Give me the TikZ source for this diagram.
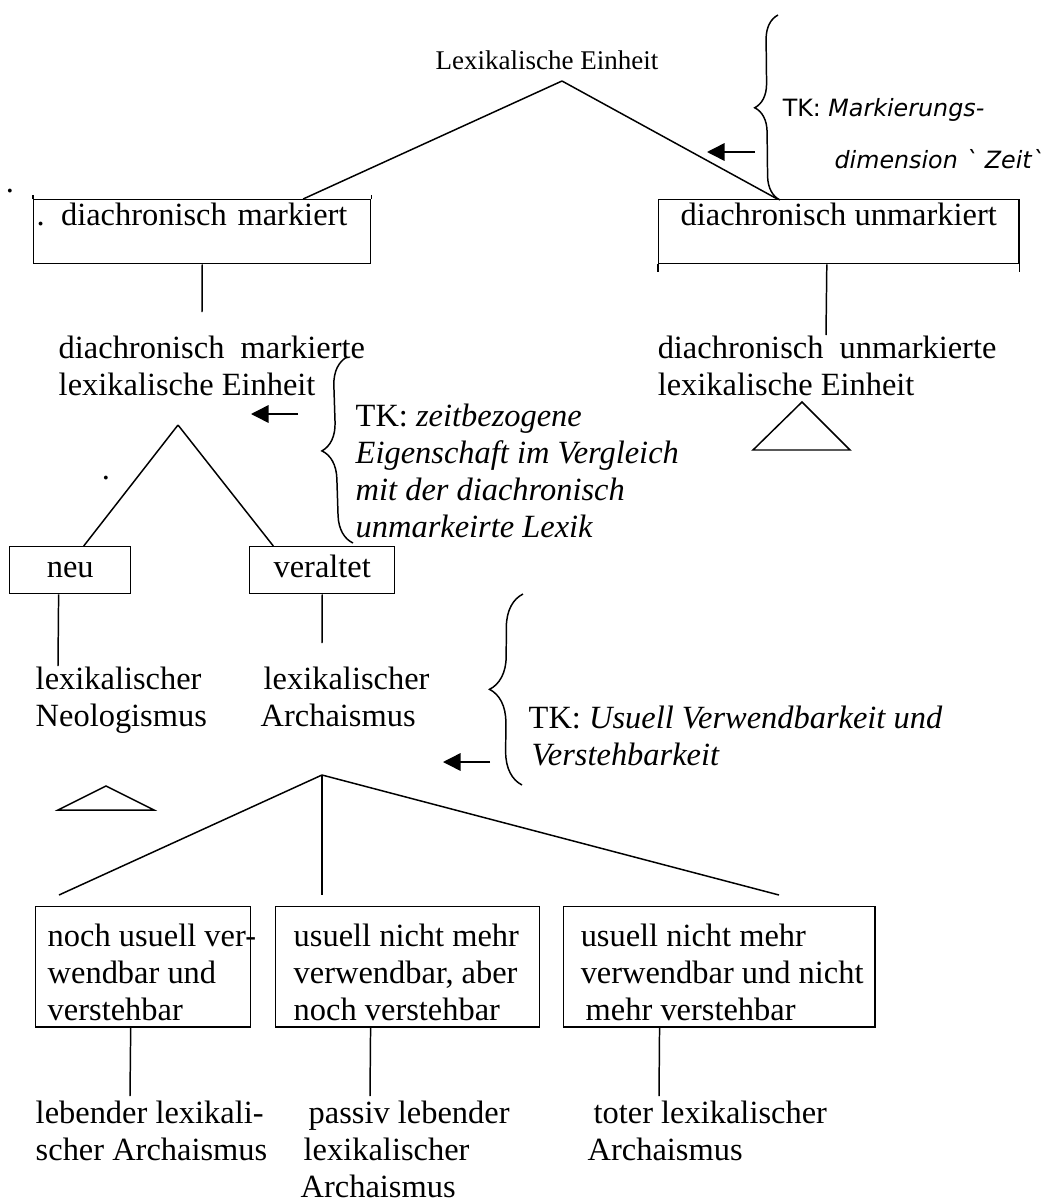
\documentclass[tikz,border=0pt]{standalone}
\usepackage{fontspec}
\setmainfont{Liberation Serif}
\newfontfamily\tksans{DejaVu Sans}
\usetikzlibrary{arrows.meta,calc,decorations.pathreplacing}

\begin{document}
\begin{tikzpicture}[
    x=0.37pt, y=-0.37pt, line width=0.55pt,
    txt/.style={inner sep=0pt, anchor=north west, align=left, font=\fontsize{12}{13.7}\selectfont},
    box/.style={draw, inner sep=0pt, anchor=north west, font=\fontsize{12}{13.7}\selectfont},
    arrow/.style={-{Triangle[length=6.5pt,width=6.5pt]}},
    tkbrace/.style={decorate, decoration={brace, amplitude=#1}},
    tkbrace/.default=9pt,
]
\path[use as bounding box, fill=white] (0,0) rectangle (1045,1204);

% Top level
\node[txt, anchor=north, font=\fontsize{10}{12}\selectfont] (lex) at (547,50) {Lexikalische Einheit};
\coordinate (lexapex) at (562,81);
\node[txt, anchor=base] (dot1) at (10,192) {.};

% Marked / unmarked
\node[box, text width=122.47pt, inner xsep=1.11pt, align=left, text height=9.62pt, text depth=14.06pt] (dm) at (33,199) {. diachronisch markiert};
\node[box, minimum width=133.2pt, text height=9.62pt, text depth=14.06pt] (du) at (658,199) {diachronisch unmarkiert};
\draw (dm.north west) -- ++(0,-4);
\draw (dm.north east) -- ++(0,-4);
\draw (du.south west) -- ++(0,8);
\draw (du.south east) -- ++(0,8);

\draw (lexapex) -- ($(dm.north west)!0.798!(dm.north east)$);
\draw (lexapex) -- ($(du.north west)!0.33!(du.north east)$);

\coordinate (dmleaf) at (202,312);
\coordinate (duleaf) at (826,335);
\draw (dm.south) -- (dmleaf);
\draw ($(du.south west)!0.467!(du.south east)$) -- (duleaf);

\node[txt] (dml) at (58,335) {diachronisch\ \ markierte\\lexikalische Einheit};
\node[txt] (dul) at (657,335) {diachronisch\ \ unmarkierte\\lexikalische Einheit};
\draw (802,402) -- (850,450) -- (753,450) -- cycle;

% TK 1
\coordinate (br1a) at (778,15);
\coordinate (br1b) at (780,200);
\draw[tkbrace=9pt] (br1b) -- (br1a);
\coordinate (ar1a) at (755,152);
\coordinate (ar1b) at (707,152);
\draw[arrow] (ar1a) -- (ar1b);
\node[txt, font=\tksans\fontsize{8.8}{19.2}\selectfont] (tk1) at (782,98) {TK: \textit{Markierungs-}\\\hspace*{19.2pt}\textit{dimension \symbol{96}\ Zeit\symbol{96}}};

% Neu / veraltet
\coordinate (dmlapex) at (178,425);
\node[box, minimum width=44.77pt, minimum height=17.39pt, text height=7.6pt, text depth=2pt] (neu) at (9,546) {neu};
\node[box, minimum width=53.65pt, minimum height=17.39pt, text height=7.6pt, text depth=2pt] (veraltet) at (249,546) {veraltet};
\draw (dmlapex) -- ($(neu.north west)!0.61!(neu.north east)$);
\draw (dmlapex) -- ($(veraltet.north west)!0.166!(veraltet.north east)$);
\node[txt, anchor=base] (dot2) at (106,479) {.};

\coordinate (neuleaf) at (58,666);
\coordinate (altleaf) at (322,643);
\draw ($(neu.south west)!0.405!(neu.south east)$) -- (neuleaf);
\draw (veraltet.south) -- (altleaf);

\node[txt] (neol) at (35,666) {lexikalischer\\Neologismus};
\node[txt] (arch) at (260,666) {\hspace*{1.1pt}lexikalischer\\Archaismus};
\draw (106,786) -- (154,810) -- (58,810) -- cycle;

% TK 2
\coordinate (br2a) at (347,357);
\coordinate (br2b) at (353,543);
\draw[tkbrace=10.4pt] (br2b) -- (br2a);
\coordinate (ar2a) at (298,414);
\coordinate (ar2b) at (251,414);
\draw[arrow] (ar2a) -- (ar2b);
\node[txt] (tk2) at (355,403) {TK: \textit{zeitbezogene}\\\textit{Eigenschaft im Vergleich}\\\textit{mit der diachronisch}\\\textit{unmarkeirte Lexik}};

% TK 3
\coordinate (br3a) at (523,594);
\coordinate (br3b) at (522,785);
\draw[tkbrace=12.2pt] (br3b) -- (br3a);
\coordinate (ar3a) at (490,762);
\coordinate (ar3b) at (443,762);
\draw[arrow] (ar3a) -- (ar3b);
\node[txt] (tk3) at (528,705) {TK: \textit{Usuell Verwendbarkeit und}\\\hspace*{1.1pt}\textit{Verstehbarkeit}};

% Archaismus types
\coordinate (archapex) at (322,775);
\coordinate (leg1) at (59,895);
\coordinate (leg2) at (322,895);
\coordinate (leg3) at (779,895);
\draw (archapex) -- (leg1);
\draw (archapex) -- (leg2);
\draw (archapex) -- (leg3);

\node[box, minimum width=79.55pt, minimum height=44.4pt] (b1) at (35,906) {};
\node[box, minimum width=97.68pt, minimum height=44.4pt] (b2) at (275,906) {};
\node[box, minimum width=115.07pt, minimum height=44.4pt] (b3) at (563,906) {};
\node[txt] (b1t) at (47,923) {noch usuell ver-\\wendbar und\\verstehbar};
\node[txt] (b2t) at (293,923) {usuell nicht mehr\\verwendbar, aber\\noch verstehbar};
\node[txt] (b3t) at (580,923) {usuell nicht mehr\\verwendbar und nicht\\\hspace*{1.85pt}mehr verstehbar};

\coordinate (l1) at (130,1096);
\coordinate (l2) at (370,1096);
\coordinate (l3) at (659,1096);
\draw ($(b1.south west)!0.442!(b1.south east)$) -- (l1);
\draw ($(b2.south west)!0.36!(b2.south east)$) -- (l2);
\draw ($(b3.south west)!0.309!(b3.south east)$) -- (l3);

\node[txt] (live) at (35,1100) {lebender lexikali-\\scher Archaismus};
\node[txt] (passive) at (300,1100) {\hspace*{2.96pt}passiv lebender\\\hspace*{1.1pt}lexikalischer\\Archaismus};
\node[txt] (dead) at (587,1100) {\hspace*{2.2pt}toter lexikalischer\\Archaismus};
\end{tikzpicture}
\end{document}
